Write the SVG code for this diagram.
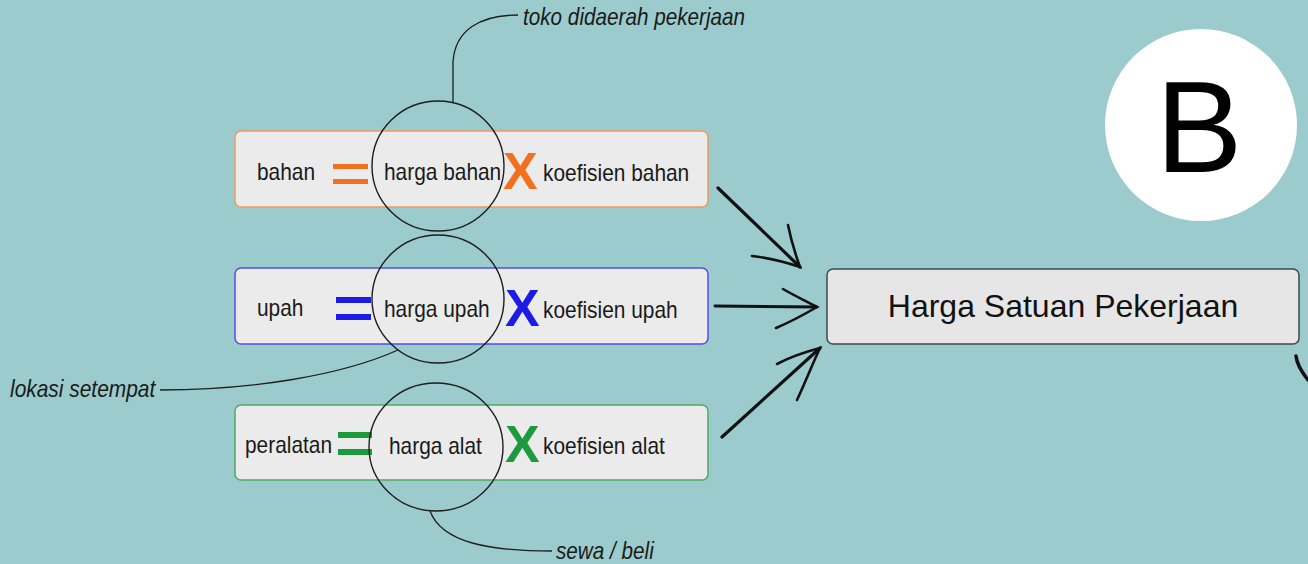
<svg xmlns="http://www.w3.org/2000/svg" width="1308" height="564" viewBox="0 0 1308 564">
<style>
.t{font-family:"Liberation Sans",Arial,sans-serif;font-size:24px;fill:#1a1a1a}
.it{font-family:"Liberation Sans",Arial,sans-serif;font-size:23px;font-style:italic;fill:#1a1a1a}
.x{font-family:"Liberation Sans",Arial,sans-serif;font-size:52px;font-weight:bold}
.box{fill:#ebebeb;stroke-width:1.5}
.ring{fill:none;stroke:#1e1e1e;stroke-width:1.4}
.lead{fill:none;stroke:#1e1e1e;stroke-width:1.3}
.arr{fill:none;stroke:#111;stroke-linecap:round}
</style>
<rect width="1308" height="564" fill="#9bcbcc"/>

<g id="badge-b">
<circle cx="1201" cy="125" r="96" fill="#ffffff"/>
<text x="1199" y="172" text-anchor="middle" style="font-family:'Liberation Sans',Arial,sans-serif;font-size:130px" fill="#000">B</text>
</g>

<g id="node-bahan">
<rect class="box" x="235" y="131" width="473" height="76" rx="6" stroke="#ee9b5e"/>
<text class="t" transform="translate(257,180) scale(0.87,1)">bahan</text>
<rect x="333" y="164" width="35" height="5" fill="#f2711f"/>
<rect x="333" y="179" width="35" height="5" fill="#f2711f"/>
<text class="t" transform="translate(384,180) scale(0.87,1)">harga bahan</text>
<text class="x" x="503" y="189" fill="#f2711f">X</text>
<text class="t" transform="translate(543,181) scale(0.87,1)">koefisien bahan</text>
</g>

<g id="node-upah">
<rect class="box" x="235" y="268" width="473" height="76" rx="6" stroke="#5050e8"/>
<text class="t" transform="translate(257,316) scale(0.87,1)">upah</text>
<rect x="336" y="297" width="35" height="6" fill="#1c1ce6"/>
<rect x="336" y="314" width="35" height="6" fill="#1c1ce6"/>
<text class="t" transform="translate(384,317) scale(0.87,1)">harga upah</text>
<text class="x" x="505" y="326" fill="#1c1ce6">X</text>
<text class="t" transform="translate(543,318) scale(0.87,1)">koefisien upah</text>
</g>

<g id="node-alat">
<rect class="box" x="235" y="405" width="473" height="75" rx="6" stroke="#4faa66"/>
<text class="t" transform="translate(245,453) scale(0.87,1)">peralatan</text>
<rect x="338" y="432" width="34" height="6" fill="#1d9a3e"/>
<rect x="338" y="449" width="34" height="6" fill="#1d9a3e"/>
<text class="t" transform="translate(389,454) scale(0.87,1)">harga alat</text>
<text class="x" x="505" y="462" fill="#1d9a3e">X</text>
<text class="t" transform="translate(543,454) scale(0.87,1)">koefisien alat</text>
</g>

<g id="node-hsp">
<rect x="827" y="269" width="472" height="75" rx="6" fill="#e6e6e6" stroke="#3d4b4b" stroke-width="1.5"/>
<text x="1063" y="317" text-anchor="middle" style="font-family:'Liberation Sans',Arial,sans-serif;font-size:32px" fill="#111">Harga Satuan Pekerjaan</text>
</g>

<g id="rings">
<ellipse class="ring" cx="438" cy="166" rx="66" ry="65"/>
<ellipse class="ring" cx="438" cy="299" rx="66" ry="64"/>
<ellipse class="ring" cx="436" cy="447" rx="67" ry="64"/>
</g>

<g id="callouts">
<path class="lead" d="M453,103 L453,62 C455,30 480,15 518,15"/>
<text class="it" transform="translate(523,25) scale(0.9,1)">toko didaerah pekerjaan</text>
<path class="lead" d="M398,350 C340,376 250,390 160,390"/>
<text class="it" transform="translate(10,397) scale(0.91,1)">lokasi setempat</text>
<path class="lead" d="M430,511 C442,543 490,551 552,551"/>
<text class="it" transform="translate(556,559) scale(0.9,1)">sewa / beli</text>
</g>

<g id="connectors">
<path class="arr" stroke-width="3.2" d="M718,188 L800,267"/>
<path class="arr" stroke-width="2.6" d="M788,225 C792,245 796,256 800,267 C785,262 770,258 752,256"/>
<path class="arr" stroke-width="3" d="M715,306 L817,307"/>
<path class="arr" stroke-width="2.6" d="M783,289 C795,296 806,301 817,307 C805,314 790,322 776,328"/>
<path class="arr" stroke-width="3.2" d="M722,437 L820,348"/>
<path class="arr" stroke-width="2.6" d="M777,364 C790,357 805,352 820,348 C812,365 805,383 797,400"/>
<path class="arr" stroke-width="3.5" d="M1296,356 Q1297,366 1308,380"/>
</g>
</svg>
